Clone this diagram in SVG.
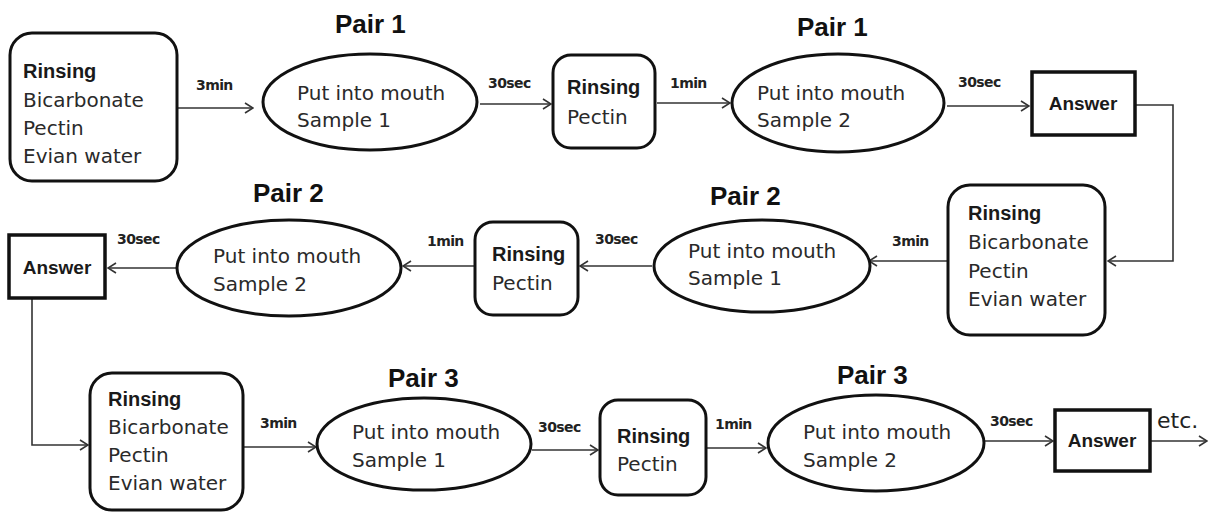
<svg xmlns="http://www.w3.org/2000/svg" width="1210" height="520" viewBox="0 0 1210 520">
<defs>
<style>
.shape{fill:#fff;stroke:#111;stroke-width:3}
.ans{fill:#fff;stroke:#111;stroke-width:3.5}
.t{font-family:"DejaVu Sans",sans-serif;font-size:20px;fill:#2a2a2a}
.b{font-family:"Liberation Sans",Arial,sans-serif;font-weight:bold;font-size:20px;fill:#1a1a1a}
.a{font-family:"Liberation Sans",Arial,sans-serif;font-weight:bold;font-size:19px;fill:#1a1a1a}
.pair{font-family:"Liberation Sans",Arial,sans-serif;font-weight:bold;font-size:26px;fill:#111}
.lbl{font-family:"DejaVu Sans",sans-serif;font-weight:bold;font-size:14px;fill:#222;letter-spacing:-0.6px}
.etc{font-family:"DejaVu Sans",sans-serif;font-size:22px;fill:#222}
.c{fill:none;stroke:#333;stroke-width:1.6}
</style>
<marker id="ah" viewBox="0 0 10 12" refX="9" refY="6" markerWidth="10" markerHeight="12" markerUnits="userSpaceOnUse" orient="auto">
<path d="M1,1 L9,6 L1,11" fill="none" stroke="#333" stroke-width="1.6"/>
</marker>
</defs>
<rect width="1210" height="520" fill="#fff"/>

<g id="connectors">
<path class="c" d="M178,108 H253" marker-end="url(#ah)"/>
<path class="c" d="M480,104 H551" marker-end="url(#ah)"/>
<path class="c" d="M657,103 H730" marker-end="url(#ah)"/>
<path class="c" d="M947,106 H1029" marker-end="url(#ah)"/>
<path class="c" d="M1136,105 H1173 V261 H1108" marker-end="url(#ah)"/>
<path class="c" d="M947,261 H869" marker-end="url(#ah)"/>
<path class="c" d="M652,266 H580" marker-end="url(#ah)"/>
<path class="c" d="M474,266 H403" marker-end="url(#ah)"/>
<path class="c" d="M176,268 H108" marker-end="url(#ah)"/>
<path class="c" d="M32,299 V445 H88" marker-end="url(#ah)"/>
<path class="c" d="M244,447 H316" marker-end="url(#ah)"/>
<path class="c" d="M532,450 H598" marker-end="url(#ah)"/>
<path class="c" d="M707,448 H766" marker-end="url(#ah)"/>
<path class="c" d="M984,441 H1053" marker-end="url(#ah)"/>
<path class="c" d="M1151,441 H1207" marker-end="url(#ah)"/>
<text class="lbl" x="196" y="90">3min</text>
<text class="lbl" x="488" y="88">30sec</text>
<text class="lbl" x="670" y="88">1min</text>
<text class="lbl" x="958" y="87">30sec</text>
<text class="lbl" x="892" y="246">3min</text>
<text class="lbl" x="595" y="244">30sec</text>
<text class="lbl" x="427" y="246">1min</text>
<text class="lbl" x="117" y="244">30sec</text>
<text class="lbl" x="260" y="428">3min</text>
<text class="lbl" x="538" y="432">30sec</text>
<text class="lbl" x="715" y="429">1min</text>
<text class="lbl" x="990" y="426">30sec</text>
<text class="etc" x="1157" y="428">etc.</text>
</g>

<g id="labels">
<text class="pair" x="335" y="33">Pair 1</text>
<text class="pair" x="797" y="36">Pair 1</text>
<text class="pair" x="253" y="202">Pair 2</text>
<text class="pair" x="710" y="205">Pair 2</text>
<text class="pair" x="388" y="387">Pair 3</text>
<text class="pair" x="837" y="384">Pair 3</text>
</g>

<g id="n1">
<rect class="shape" x="10" y="33" width="167" height="148" rx="22"/>
<text class="b" x="23" y="78">Rinsing</text>
<text class="t" x="23" y="107">Bicarbonate</text>
<text class="t" x="23" y="135">Pectin</text>
<text class="t" x="23" y="163">Evian water</text>
</g>
<g id="n2">
<ellipse class="shape" cx="370" cy="102" rx="107" ry="48"/>
<text class="t" x="297" y="100">Put into mouth</text>
<text class="t" x="297" y="127">Sample 1</text>
</g>
<g id="n3">
<rect class="shape" x="553" y="55" width="102" height="93" rx="18"/>
<text class="b" x="567" y="94">Rinsing</text>
<text class="t" x="567" y="124">Pectin</text>
</g>
<g id="n4">
<ellipse class="shape" cx="838" cy="103" rx="106" ry="49"/>
<text class="t" x="757" y="100">Put into mouth</text>
<text class="t" x="757" y="127">Sample 2</text>
</g>
<g id="n5">
<rect class="ans" x="1032" y="72" width="103" height="63"/>
<text class="a" x="1083" y="110" text-anchor="middle">Answer</text>
</g>
<g id="n6">
<rect class="shape" x="948" y="185" width="157" height="150" rx="22"/>
<text class="b" x="968" y="220">Rinsing</text>
<text class="t" x="968" y="249">Bicarbonate</text>
<text class="t" x="968" y="278">Pectin</text>
<text class="t" x="968" y="306">Evian water</text>
</g>
<g id="n7">
<ellipse class="shape" cx="762" cy="266" rx="108" ry="46"/>
<text class="t" x="688" y="258">Put into mouth</text>
<text class="t" x="688" y="285">Sample 1</text>
</g>
<g id="n8">
<rect class="shape" x="475" y="222" width="103" height="93" rx="18"/>
<text class="b" x="492" y="261">Rinsing</text>
<text class="t" x="492" y="290">Pectin</text>
</g>
<g id="n9">
<ellipse class="shape" cx="289" cy="268" rx="112" ry="48"/>
<text class="t" x="213" y="263">Put into mouth</text>
<text class="t" x="213" y="291">Sample 2</text>
</g>
<g id="n10">
<rect class="ans" x="9" y="235" width="96" height="63"/>
<text class="a" x="57" y="274" text-anchor="middle">Answer</text>
</g>
<g id="n11">
<rect class="shape" x="90" y="373" width="153" height="137" rx="22"/>
<text class="b" x="108" y="406">Rinsing</text>
<text class="t" x="108" y="434">Bicarbonate</text>
<text class="t" x="108" y="462">Pectin</text>
<text class="t" x="108" y="490">Evian water</text>
</g>
<g id="n12">
<ellipse class="shape" cx="424" cy="444" rx="107" ry="46"/>
<text class="t" x="352" y="439">Put into mouth</text>
<text class="t" x="352" y="467">Sample 1</text>
</g>
<g id="n13">
<rect class="shape" x="600" y="400" width="106" height="95" rx="18"/>
<text class="b" x="617" y="443">Rinsing</text>
<text class="t" x="617" y="471">Pectin</text>
</g>
<g id="n14">
<ellipse class="shape" cx="876" cy="443" rx="108" ry="48"/>
<text class="t" x="803" y="439">Put into mouth</text>
<text class="t" x="803" y="467">Sample 2</text>
</g>
<g id="n15">
<rect class="ans" x="1055" y="410" width="95" height="61"/>
<text class="a" x="1102" y="447" text-anchor="middle">Answer</text>
</g>
</svg>
